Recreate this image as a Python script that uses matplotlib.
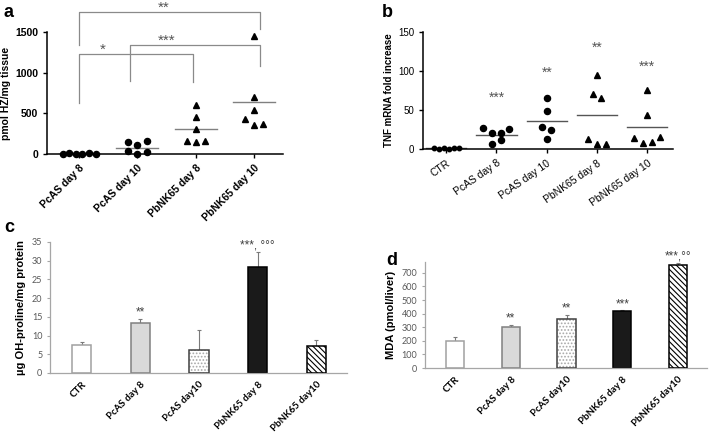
import numpy as np
import matplotlib
matplotlib.use("Agg")
import matplotlib.pyplot as plt

# =============================
# Data
# =============================
groups_a = ["PcAS day 8", "PcAS day 10", "PbNK65 day 8", "PbNK65 day 10"]
hz_pcas_d8 = [6, 9, 3, 0, 7, 4]
hz_pcas_d10 = [35, 2, 25, 145, 108, 158]
hz_pbnk_d8 = [598, 450, 303, 164, 151, 164]
hz_pbnk_d10 = [1448, 695, 540, 430, 356, 372]

groups_b = ["CTR", "PcAS day 8", "PcAS day 10", "PbNK65 day 8", "PbNK65 day 10"]
tnf_ctr = [1.0, 0.5, 1.5, 0.3, 1.2, 0.8]
tnf_pcas_d8 = [27, 21, 20, 26, 6, 11]
tnf_pcas_d10 = [66, 49, 28, 24, 13]
tnf_pbnk_d8 = [95, 71, 66, 13, 6, 7]
tnf_pbnk_d10 = [76, 43, 14, 8, 8.5, 16]
tnf_stars = ["", "***", "**", "**", "***"]
tnf_star_y = [0, 69, 101, 133, 109]

groups_cd = ["CTR", "PcAS day 8", "PcAS day10", "PbNK65 day 8", "PbNK65 day10"]
ohp_mean = [7.6, 13.4, 6.1, 28.3, 7.2]
ohp_err = [0.6, 0.9, 5.5, 3.9, 1.7]
ohp_stars = ["", "**", "", "***, °°°", ""]

mda_mean = [201, 300, 361, 418, 761]
mda_err = [25, 19, 32, 7, 13]
mda_stars = ["", "**", "**", "***", "***,°°"]

# significance brackets for panel a: (x left, x right, top, left foot, right foot, label, label x)
brackets_a = [
    (0.0, 3.1, 1745, 1337, 1542, "**", 1.45),
    (0.0, 1.95, 1235, 622, 888, "*", 0.4),
    (0.88, 3.1, 1337, 896, 1080, "***", 1.5),
]

# =============================
# Figure setup
# =============================
W, H = 709, 433
fig = plt.figure(figsize=(W / 100, H / 100), dpi=100)
plt.rcParams["font.family"] = ["Liberation Sans", "DejaVu Sans"]


def rect(left, top, right, bottom):
    return [left / W, 1 - bottom / H, (right - left) / W, (bottom - top) / H]


def swarm_x(ax, center, values, gap_px=9.0, max_span_px=33.0, thresh_px=7.0):
    # spread points that would overlap into centred rows (Prism style)
    values = np.asarray(values, dtype=float)
    y_px = ax.transData.transform(np.column_stack([np.zeros_like(values), values]))[:, 1]
    order = np.argsort(y_px, kind="stable")
    rows, current, base = [], [], None
    for i in order:
        if current and y_px[i] - base < thresh_px:
            current.append(i)
        else:
            if current:
                rows.append(current)
            current, base = [i], y_px[i]
    rows.append(current)
    cx = ax.transData.transform((center, 0))[0]
    xs = np.zeros(len(values))
    for row in rows:
        row = sorted(row)
        k = len(row)
        step = gap_px if (k - 1) * gap_px <= max_span_px else max_span_px / (k - 1)
        for j, i in enumerate(row):
            px = cx + (j - (k - 1) / 2) * step
            xs[i] = ax.transData.inverted().transform((px, y_px[i]))[0]
    return xs


def style_prism(ax):
    for s in ["top", "right"]:
        ax.spines[s].set_visible(False)
    for s in ["left", "bottom"]:
        ax.spines[s].set_linewidth(1.1)
    ax.tick_params(direction="out", length=3, width=1.0)


# =============================
# Panel a
# =============================
ax_a = fig.add_axes(rect(47, 32, 283, 154))
ax_a.set_xlim(-0.55, 3.5)
ax_a.set_ylim(0, 1500)
style_prism(ax_a)
series_a = [(hz_pcas_d8, "o"), (hz_pcas_d10, "o"), (hz_pbnk_d8, "^"), (hz_pbnk_d10, "^")]
for i, (vals, mk) in enumerate(series_a):
    ms = 4.4 if mk == "o" else 5.0
    xs = swarm_x(ax_a, i, vals, gap_px=9.5 if mk == "o" else 9.0)
    ax_a.plot(xs, vals, mk, color="black", ms=ms, clip_on=False, zorder=3)
    ax_a.plot([i - 0.36, i + 0.36], [np.mean(vals)] * 2, color="#808080", lw=1.0, zorder=2)
for x0, x1, top, f0, f1, lab, lx in brackets_a:
    ax_a.plot([x0, x0, x1, x1], [f0, top, top, f1], color="#8a8a8a", lw=0.9, clip_on=False)
    ax_a.annotate(lab, (lx, top), xytext=(0, 3), textcoords="offset points",
                  ha="center", va="center", fontsize=11, color="#555555",
                  annotation_clip=False)
ax_a.set_yticks([0, 500, 1000, 1500])
ax_a.set_xticks(range(4))
ax_a.set_xticklabels(groups_a, rotation=45, ha="right", rotation_mode="anchor",
                     fontsize=7.5, fontweight="bold")
for t in ax_a.get_yticklabels():
    t.set_fontsize(7.5)
    t.set_fontweight("bold")
ax_a.set_ylabel("pmol HZ/mg tissue", fontsize=7.5, fontweight="bold", labelpad=3)
fig.text(4 / W, 1 - 17 / H, "a", fontsize=13, fontweight="bold")

# =============================
# Panel b
# =============================
ax_b = fig.add_axes(rect(423, 32, 673, 149))
ax_b.set_xlim(-0.46, 4.51)
ax_b.set_ylim(0, 150)
style_prism(ax_b)
series_b = [(tnf_ctr, "o"), (tnf_pcas_d8, "o"), (tnf_pcas_d10, "o"),
            (tnf_pbnk_d8, "^"), (tnf_pbnk_d10, "^")]
for i, (vals, mk) in enumerate(series_b):
    ms = 3.2 if i == 0 else (4.4 if mk == "o" else 5.0)
    xs = swarm_x(ax_b, i, vals, gap_px=5.0 if i == 0 else 8.7, max_span_px=27)
    ax_b.plot(xs, vals, mk, color="black", ms=ms, clip_on=False, zorder=3)
    ax_b.plot([i - 0.4, i + 0.4], [np.mean(vals)] * 2, color="#555555", lw=1.0, zorder=2)
    if tnf_stars[i]:
        ax_b.annotate(tnf_stars[i], (i, tnf_star_y[i]), xytext=(0, -2),
                      textcoords="offset points", ha="center", va="center",
                      fontsize=10, color="#555555", annotation_clip=False)
ax_b.set_yticks([0, 50, 100, 150])
ax_b.set_xticks(range(5))
ax_b.set_xticklabels(groups_b, rotation=35, ha="right", rotation_mode="anchor", fontsize=7.5)
for t in ax_b.get_yticklabels():
    t.set_fontsize(7)
ax_b.set_ylabel("TNF mRNA fold increase", fontsize=7, fontweight="bold", labelpad=3)
fig.text(382 / W, 1 - 17 / H, "b", fontsize=13, fontweight="bold")

# =============================
# Panels c and d (Excel style bars)
# =============================
bar_fill = ["white", "#d9d9d9", "white", "#1a1a1a", "white"]
bar_edge = ["#a0a0a0", "#808080", "#404040", "black", "black"]
bar_hatch = [None, None, ".....", None, "\\\\\\\\\\\\"]
hatch_col = [None, None, "#a8a8a8", None, "black"]
plt.rcParams["hatch.linewidth"] = 0.8


def bar_panel(ax, means, errs, stars, ylim, yticks, ylabel, star_pad):
    x = np.arange(len(means))
    ax.set_xlim(-0.54, 4.52)
    ax.set_ylim(*ylim)
    for i in range(len(means)):
        if bar_hatch[i]:
            ax.bar(x[i], means[i], width=0.33, color=bar_fill[i], hatch=bar_hatch[i],
                   edgecolor=hatch_col[i], linewidth=0, zorder=2)
            ax.bar(x[i], means[i], width=0.33, fill=False, edgecolor=bar_edge[i],
                   linewidth=1.1, zorder=3)
        else:
            ax.bar(x[i], means[i], width=0.33, color=bar_fill[i], edgecolor=bar_edge[i],
                   linewidth=1.1, zorder=2)
        ax.errorbar(x[i], means[i], yerr=[[0], [errs[i]]], color="#7a7a7a", lw=0.8,
                    capsize=1.5, capthick=0.8, zorder=1)
        if stars[i]:
            ax.text(x[i], means[i] + errs[i] + star_pad, stars[i], ha="center",
                    va="center", fontsize=8.5, color="#404040")
    for s in ["top", "right"]:
        ax.spines[s].set_visible(False)
    for s in ["left", "bottom"]:
        ax.spines[s].set_color("#a6a6a6")
        ax.spines[s].set_linewidth(0.9)
    ax.set_yticks(yticks)
    ax.tick_params(axis="y", direction="out", length=2.5, width=0.8, color="#a6a6a6",
                   labelsize=6.5, labelcolor="#595959", pad=3)
    ax.tick_params(axis="x", length=0, pad=5)
    ax.set_xticks(x)
    ax.set_xticklabels(groups_cd, rotation=45, ha="right", rotation_mode="anchor",
                       fontsize=7, fontweight="bold")
    for t in ax.get_yticklabels():
        t.set_family(["Lato", "DejaVu Sans"])
    for t in ax.get_xticklabels():
        t.set_family(["Lato", "DejaVu Sans"])
    ax.set_ylabel(ylabel, fontsize=8, fontweight="bold", labelpad=4)


ax_c = fig.add_axes(rect(50, 242, 347, 373))
bar_panel(ax_c, ohp_mean, ohp_err, ohp_stars, (0, 35), range(0, 36, 5),
          "µg OH-proline/mg protein", 1.8)
fig.text(4 / W, 1 - 232 / H, "c", fontsize=13, fontweight="bold")

ax_d = fig.add_axes(rect(425, 262, 707, 368))
bar_panel(ax_d, mda_mean, mda_err, mda_stars, (0, 780), range(0, 701, 100),
          "MDA (pmol/liver)", 45)
fig.text(386 / W, 1 - 265 / H, "d", fontsize=13, fontweight="bold")

fig.savefig("out.png", dpi=100)
